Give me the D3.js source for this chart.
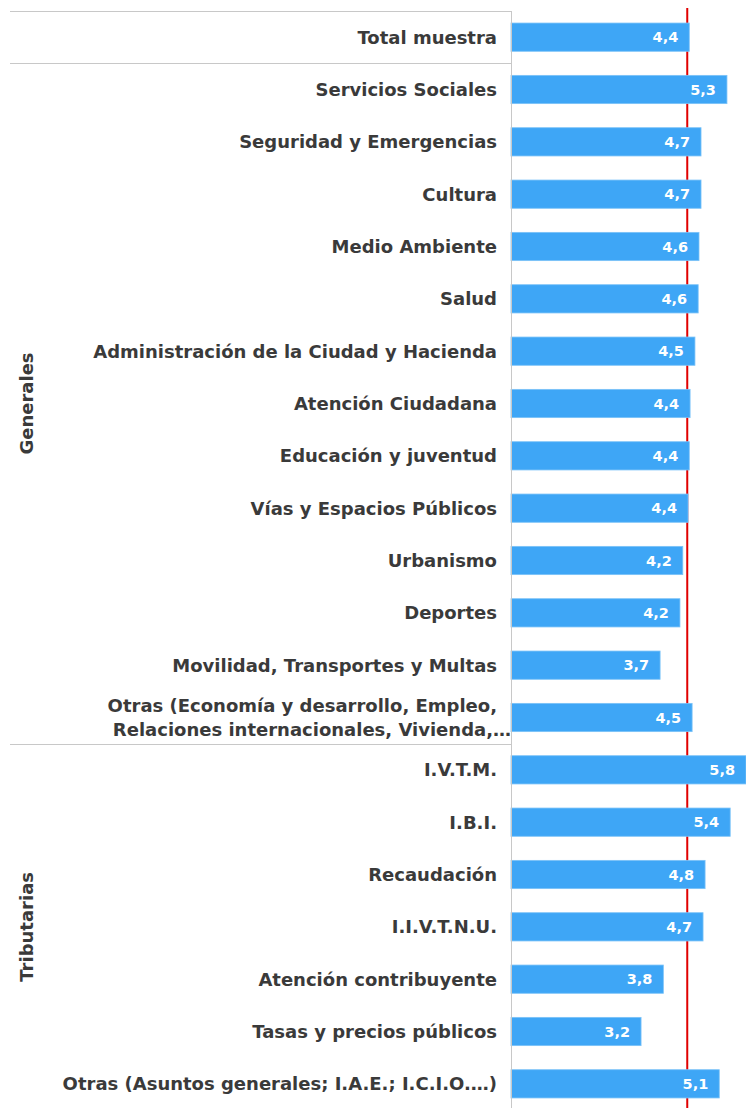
<!DOCTYPE html>
<html>
<head>
<meta charset="utf-8">
<script src="https://cdn.jsdelivr.net/npm/d3@7"></script>
<style>
  body { margin: 0; background: #fff; }
  svg { display: block; }
</style>
</head>
<body>
<div id="chart-container"></div>
<script>
// categorias y valores
const categories = [
    'Total muestra',
    'Servicios Sociales',
    'Seguridad y Emergencias',
    'Cultura',
    'Medio Ambiente',
    'Salud',
    'Administración de la Ciudad y Hacienda',
    'Atención Ciudadana',
    'Educación y juventud',
    'Vías y Espacios Públicos',
    'Urbanismo',
    'Deportes',
    'Movilidad, Transportes y Multas',
    'Otras (Economía y desarrollo, Empleo,|Relaciones internacionales, Vivienda,…',
    'I.V.T.M.',
    'I.B.I.',
    'Recaudación',
    'I.I.V.T.N.U.',
    'Atención contribuyente',
    'Tasas y precios públicos',
    'Otras (Asuntos generales; I.A.E.; I.C.I.O.…)'
];
const values = [4.40, 5.33, 4.69, 4.69, 4.64, 4.62, 4.54, 4.42, 4.40, 4.37, 4.24, 4.17, 3.68, 4.47,
    5.80, 5.41, 4.79, 4.74, 3.76, 3.21, 5.14];
const groups = [
    { name: 'Generales', first: 1, last: 13 },
    { name: 'Tributarias', first: 14, last: 20 }
];
const referenceValue = 4.35;

const width = 746, height = 1108;
const axisX = 511;

const svg = d3.select('#chart-container')
    .append('svg')
    .attr('width', width)
    .attr('height', height);

const xScale = d3.scaleLinear()
    .domain([0, 5.8])
    .range([axisX, axisX + 235]);

const yScale = d3.scaleBand()
    .domain(d3.range(categories.length))
    .range([11, 1110])
    .paddingInner(0.46)
    .paddingOuter(0.23);

const step = yScale.step();
const bw = yScale.bandwidth();
const rowTop = i => yScale(i) + bw / 2 - step / 2;
const rowMid = i => yScale(i) + bw / 2;

const fmt = v => d3.format('.1f')(v).replace('.', ',');
const labelFont = 'Tahoma, "DejaVu Sans", Verdana, sans-serif';

// linea de referencia (detras de las barras)
svg.append('line')
    .attr('x1', xScale(referenceValue))
    .attr('x2', xScale(referenceValue))
    .attr('y1', 8)
    .attr('y2', height)
    .attr('stroke', '#e00000')
    .attr('stroke-width', 2);

// separadores de grupos
const separators = [0, 1, groups[1].first];
svg.selectAll('.sep')
    .data(separators)
    .enter()
    .append('line')
    .attr('class', 'sep')
    .attr('x1', 10)
    .attr('x2', axisX)
    .attr('y1', d => Math.round(rowTop(d)) + 0.5)
    .attr('y2', d => Math.round(rowTop(d)) + 0.5)
    .attr('stroke', '#c8c8c8')
    .attr('stroke-width', 1);

// barras
svg.selectAll('.bar')
    .data(values)
    .enter()
    .append('rect')
    .attr('class', 'bar')
    .attr('x', xScale(0))
    .attr('y', (d, i) => yScale(i))
    .attr('width', d => xScale(d) - xScale(0))
    .attr('height', bw)
    .attr('fill', '#3ea6f6')
    .attr('stroke', '#7cc3f8')
    .attr('stroke-width', 0.8);

// eje vertical
svg.append('line')
    .attr('x1', axisX + 0.5)
    .attr('x2', axisX + 0.5)
    .attr('y1', 11)
    .attr('y2', height)
    .attr('stroke', '#c8c8c8')
    .attr('stroke-width', 1);

// etiquetas de valor
svg.selectAll('.val')
    .data(values)
    .enter()
    .append('text')
    .attr('class', 'val')
    .attr('x', d => xScale(d) - 11)
    .attr('y', (d, i) => rowMid(i))
    .attr('dy', '0.36em')
    .attr('text-anchor', 'end')
    .attr('fill', '#fff')
    .style('font-family', labelFont)
    .style('font-weight', 'bold')
    .style('font-size', '14.5px')
    .text(d => fmt(d));

// etiquetas de categoria
const cat = svg.selectAll('.cat')
    .data(categories)
    .enter()
    .append('text')
    .attr('class', 'cat')
    .attr('text-anchor', 'end')
    .attr('fill', '#3a3a3a')
    .style('font-family', labelFont)
    .style('font-weight', 'bold')
    .style('font-size', '18px');

cat.each(function(d, i) {
    const lines = d.split('|');
    const t = d3.select(this);
    lines.forEach((ln, k) => {
        t.append('tspan')
            .attr('x', lines.length > 1 && k === 1 ? axisX : 497)
            .attr('y', rowMid(i) + (k - (lines.length - 1) / 2) * 24)
            .attr('dy', '0.36em')
            .text(ln);
    });
});

// etiquetas de grupo
svg.selectAll('.grp')
    .data(groups)
    .enter()
    .append('text')
    .attr('class', 'grp')
    .attr('transform', d => `translate(33,${(rowTop(d.first) + rowTop(d.last) + step) / 2}) rotate(-90)`)
    .attr('text-anchor', 'middle')
    .attr('fill', '#3a3a3a')
    .style('font-family', labelFont)
    .style('font-weight', 'bold')
    .style('font-size', '18px')
    .text(d => d.name);
</script>
</body>
</html>
